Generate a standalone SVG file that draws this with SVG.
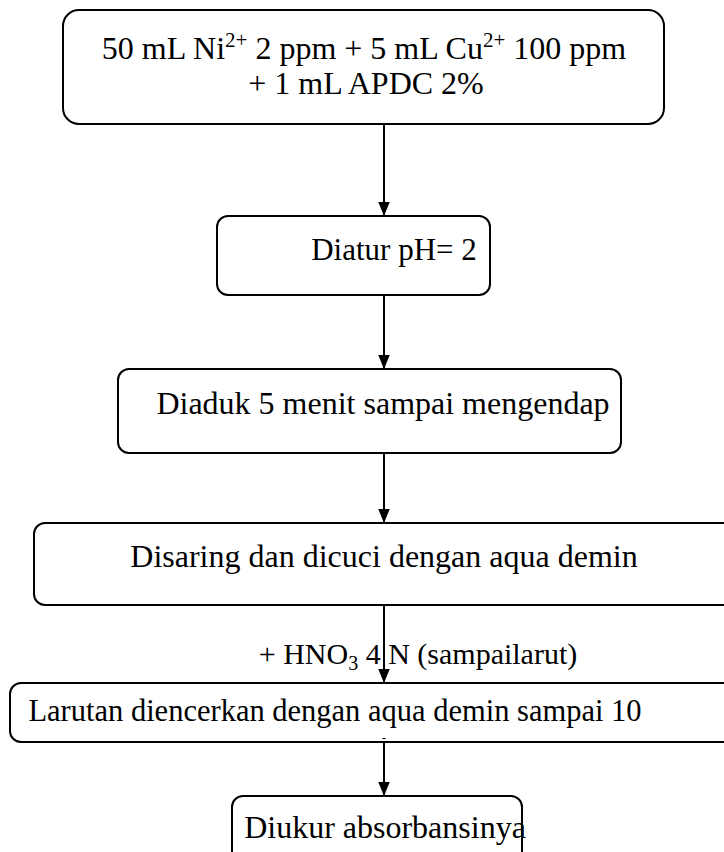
<svg xmlns="http://www.w3.org/2000/svg" width="724" height="852" viewBox="0 0 724 852">
<defs>
<marker id="ah" markerWidth="14" markerHeight="17" refX="17" refY="7" orient="auto" markerUnits="userSpaceOnUse" viewBox="0 0 17 14">
<path d="M0,0 L17,7 L0,14 Z" fill="#000"/>
</marker>
<style>
.box{fill:#fff;stroke:#000;stroke-width:2}
.t{font-family:"Liberation Serif","Times New Roman",serif;font-size:32px;fill:#000;text-anchor:middle}
.lbl{font-size:30px}
.c{stroke:#000;stroke-width:2;fill:none;marker-end:url(#ah)}
.sup{font-size:21px}
</style>
</defs>
<rect width="724" height="852" fill="#fff"/>
<g id="connectors">
<line class="c" x1="384" y1="124" x2="384" y2="216"/>
<line class="c" x1="384" y1="295" x2="384" y2="369"/>
<line class="c" x1="384" y1="453" x2="384" y2="523"/>
<line class="c" x1="384" y1="605" x2="384" y2="683"/>
<line class="c" x1="384" y1="742" x2="384" y2="796"/>
</g>
<g id="n1">
<rect class="box" x="63" y="10" width="601" height="114" rx="16"/>
<text class="t" x="364" y="59">50 mL Ni<tspan class="sup" dy="-12">2+</tspan><tspan dy="12"> 2 ppm + 5 mL Cu</tspan><tspan class="sup" dy="-12">2+</tspan><tspan dy="12"> 100 ppm</tspan></text>
<text class="t" x="366" y="94">+ 1 mL APDC 2%</text>
</g>
<g id="n2">
<rect class="box" x="217" y="216" width="273" height="79" rx="11"/>
<text class="t" x="394" y="260" style="font-size:31px">Diatur pH= 2</text>
</g>
<g id="n3">
<rect class="box" x="118" y="369" width="503" height="84" rx="11"/>
<text class="t" x="383" y="414">Diaduk 5 menit sampai mengendap</text>
</g>
<g id="n4">
<rect class="box" x="34" y="523" width="720" height="82" rx="11"/>
<text class="t" x="384" y="567">Disaring dan dicuci dengan aqua demin</text>
</g>
<g id="label">
<text class="t lbl" x="418" y="664">+ HNO<tspan class="sup" style="font-size:20px" dy="6">3</tspan><tspan dy="-6"> 4 N (sampailarut)</tspan></text>
</g>
<g id="n5">
<rect class="box" x="10" y="683" width="745" height="59" rx="11"/>
<text class="t" x="335" y="721" style="font-size:30.5px">Larutan diencerkan dengan aqua demin sampai 10</text>
<text class="t" x="384" y="742" style="font-size:13px">-</text>
</g>
<g id="n6">
<rect class="box" x="232" y="796" width="290" height="90" rx="11"/>
<text class="t" x="385" y="838">Diukur absorbansinya</text>
</g>
</svg>
